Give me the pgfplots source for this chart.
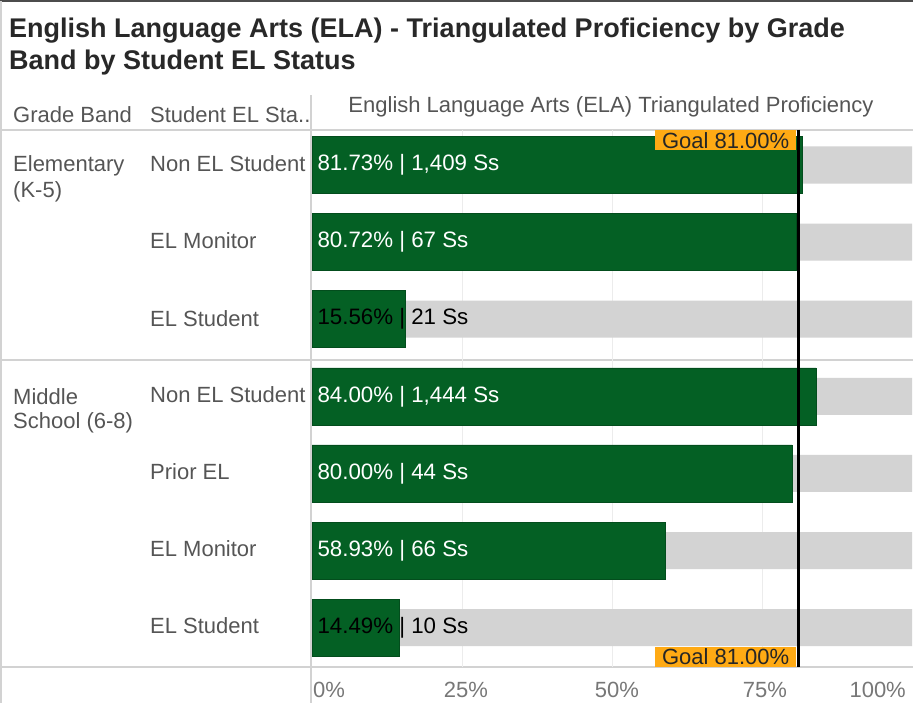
\documentclass[border=0pt]{standalone}
\usepackage{fontspec}
\setmainfont{Liberation Sans}
\usepackage{pgfplots}
\pgfplotsset{compat=1.18}
\definecolor{elagreen}{RGB}{4,96,36}
\definecolor{barbg}{RGB}{211,211,211}
\definecolor{goalorange}{RGB}{255,170,20}
\definecolor{labgray}{RGB}{85,85,85}
\definecolor{titlegray}{RGB}{40,40,40}
\definecolor{rulegray}{RGB}{210,210,210}
\definecolor{gridgray}{RGB}{236,236,236}
\newcommand{\fs}[1]{\fontsize{#1}{#1}\selectfont}
\begin{document}
\begin{tikzpicture}
\begin{scope}[x=1pt,y=1pt]
\useasboundingbox (0,0) rectangle (913,703);
% borders
\draw[line width=1.5pt, color=black!70] (0,702) -- (913,702);
\draw[line width=1.5pt, color=rulegray] (1,0) -- (1,702);
% title
\node[anchor=west, font=\fs{27}\bfseries, text=titlegray, inner sep=0] at (9,672) {English Language Arts (ELA) - Triangulated Proficiency by Grade};
\node[anchor=west, font=\fs{27}\bfseries, text=titlegray, inner sep=0] at (9,640) {Band by Student EL Status};
% header
\node[anchor=west, font=\fs{22}, text=labgray, inner sep=0] at (13,588) {Grade Band};
\node[anchor=west, font=\fs{22}, text=labgray, inner sep=0] at (150,588) {Student EL Sta..};
\node[anchor=center, font=\fs{22}, text=labgray, inner sep=0] at (611,596) {English Language Arts (ELA) Triangulated Proficiency};
% rules
\draw[line width=2pt, color=rulegray] (0,573) -- (913,573);
\draw[line width=2pt, color=rulegray] (0,343) -- (913,343);
\draw[line width=2pt, color=rulegray] (0,36) -- (913,36);
\draw[line width=1.5pt, color=rulegray] (311,0) -- (311,608);
\end{scope}
\begin{axis}[
  at={(312pt,36pt)}, anchor=south west, scale only axis,
  width=600pt, height=537pt,
  xmin=0, xmax=100, ymin=-0.454, ymax=6.511, y dir=reverse,
  axis line style={draw=none},
  xtick={25,50,75}, xticklabels={}, ytick=\empty,
  xmajorgrids, major grid style={gridgray, line width=1pt},
  tick style={draw=none},
  clip=false,
]
\addplot[xbar, bar shift=0pt, bar width=37pt, fill=barbg, draw=none]
  coordinates {(100,0) (100,1) (100,2) (100,3) (100,4) (100,5) (100,6)};
\addplot[xbar, bar shift=0pt, bar width=57pt, fill=elagreen, draw=elagreen!80!black, line width=0.5pt]
  coordinates {(81.73,0) (80.72,1) (15.56,2) (84.00,3) (80.00,4) (58.93,5) (14.49,6)};
% value labels
\begin{scope}[every node/.style={anchor=west, font=\fs{22.3}, xshift=2pt}]
\node[text=white] at (axis cs:0,0) {81.73\% | 1,409 Ss};
\node[text=white] at (axis cs:0,1) {80.72\% | 67 Ss};
\node[text=black] at (axis cs:0,2) {15.56\% | 21 Ss};
\node[text=white] at (axis cs:0,3) {84.00\% | 1,444 Ss};
\node[text=white] at (axis cs:0,4) {80.00\% | 44 Ss};
\node[text=white] at (axis cs:0,5) {58.93\% | 66 Ss};
\node[text=black] at (axis cs:0,6) {14.49\% | 10 Ss};
\end{scope}
% goal
\draw[black, line width=3pt] (axis cs:81,-0.454) -- (axis cs:81,6.511);
\node[anchor=north east, fill=goalorange, font=\fs{22}, text=black!85, inner xsep=7pt, inner ysep=2pt, xshift=-1.5pt] at (axis cs:81,-0.454) {Goal 81.00\%};
\node[anchor=south east, fill=goalorange, font=\fs{22}, text=black!85, inner xsep=7pt, inner ysep=2pt, xshift=-1.5pt] at (axis cs:81,6.511) {Goal 81.00\%};
\end{axis}
\begin{scope}[x=1pt,y=1pt]
% row labels
\begin{scope}[every node/.style={anchor=west, font=\fs{22}, text=labgray, inner sep=0}]
\node at (13,537) {Elementary};
\node at (13,511) {(K-5)};
\node at (13,306) {Middle};
\node at (13,280) {School (6-8)};
\node at (150,539) {Non EL Student};
\node at (150,462) {EL Monitor};
\node at (150,384) {EL Student};
\node at (150,308) {Non EL Student};
\node at (150,231) {Prior EL};
\node at (150,154) {EL Monitor};
\node at (150,77) {EL Student};
\end{scope}
% x tick labels
\begin{scope}[every node/.style={font=\fs{22}, text=labgray!80, inner sep=0}]
\node[anchor=west] at (313,13) {0\%};
\node[anchor=center] at (466,13) {25\%};
\node[anchor=center] at (617,13) {50\%};
\node[anchor=center] at (765,13) {75\%};
\node[anchor=east] at (906,13) {100\%};
\end{scope}
\end{scope}
\end{tikzpicture}
\end{document}
